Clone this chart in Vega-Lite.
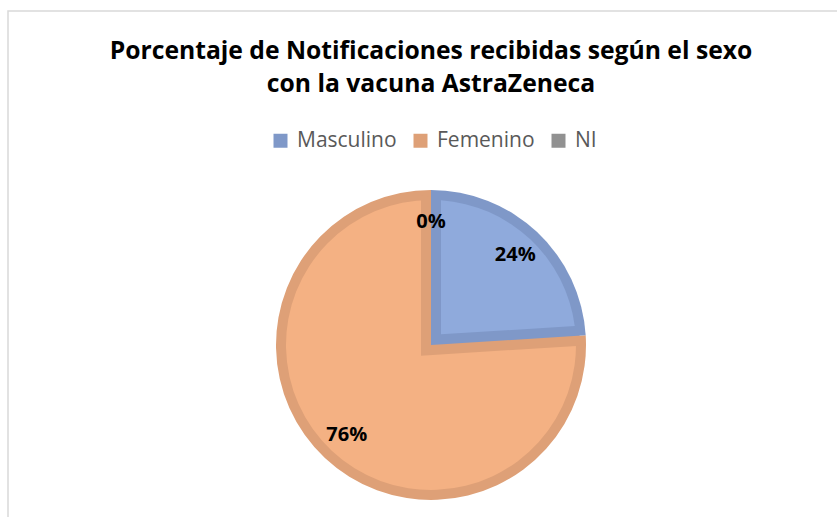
{
  "$schema": "https://vega.github.io/schema/vega-lite/v6.json",
  "autosize": {"type": "none"},
  "padding": {"left": 8, "top": 11, "right": -17, "bottom": -151},
  "width": 846,
  "height": 668,
  "background": "white",
  "view": {"stroke": "#d9d9d9", "strokeWidth": 1.5, "fill": "white"},
  "title": {
    "text": ["Porcentaje de Notificaciones recibidas según el sexo", "con la vacuna AstraZeneca"],
    "font": "Open Sans",
    "fontSize": 24.7,
    "fontWeight": "bold",
    "color": "#000000",
    "anchor": "middle",
    "frame": "group",
    "orient": "top",
    "offset": -86,
    "lineHeight": 33
  },
  "data": {
    "values": [
      {"sexo": "Masculino", "proporcion": 0.24, "orden": 1},
      {"sexo": "Femenino", "proporcion": 0.76, "orden": 2},
      {"sexo": "NI", "proporcion": 0, "orden": 3}
    ]
  },
  "transform": [
    {"stack": "proporcion", "groupby": [], "sort": [{"field": "orden"}], "as": ["inicio", "fin"]}
  ],
  "layer": [
    {
      "transform": [{"filter": "datum.sexo === 'Femenino'"}],
      "mark": {"type": "arc", "outerRadius": 155, "fill": "#DEA077"},
      "encoding": {
        "theta": {"field": "inicio", "type": "quantitative", "scale": {"domain": [0, 1]}},
        "theta2": {"field": "fin"}
      }
    },
    {
      "transform": [{"filter": "datum.sexo === 'Femenino'"}],
      "mark": {"type": "arc", "outerRadius": 145, "fill": "#F4B183"},
      "encoding": {
        "theta": {"field": "inicio", "type": "quantitative"},
        "theta2": {"field": "fin"}
      }
    },
    {
      "transform": [{"filter": "datum.sexo === 'Masculino'"}],
      "mark": {"type": "arc", "outerRadius": 160, "fill": "#DEA077", "xOffset": -10, "yOffset": 10.7},
      "encoding": {
        "theta": {"field": "inicio", "type": "quantitative"},
        "theta2": {"field": "fin"}
      }
    },
    {
      "transform": [{"filter": "datum.sexo === 'Masculino'"}],
      "mark": {"type": "arc", "outerRadius": 155},
      "encoding": {
        "theta": {"field": "inicio", "type": "quantitative"},
        "theta2": {"field": "fin"},
        "color": {
          "field": "sexo",
          "type": "nominal",
          "scale": {"domain": ["Masculino", "Femenino", "NI"], "range": ["#7F98C8", "#DEA077", "#919191"]},
          "legend": {
            "orient": "none",
            "legendX": 262,
            "legendY": 119,
            "direction": "horizontal",
            "title": null,
            "symbolType": "square",
            "symbolSize": 196,
            "symbolStrokeWidth": 0,
            "labelFont": "Open Sans",
            "labelFontSize": 21,
            "labelColor": "#595959",
            "labelOffset": 6,
            "columnPadding": 13,
            "padding": 0
          }
        }
      }
    },
    {
      "transform": [{"filter": "datum.sexo === 'Masculino'"}],
      "mark": {"type": "arc", "outerRadius": 145, "innerRadius": 14.6, "padAngle": 0.1373, "fill": "#8FAADC"},
      "encoding": {
        "theta": {"field": "inicio", "type": "quantitative"},
        "theta2": {"field": "fin"}
      }
    },
    {
      "mark": {"type": "text", "radius": 123, "font": "Open Sans", "fontSize": 20, "fontWeight": "bold", "color": "#000000", "align": "center", "baseline": "middle"},
      "encoding": {
        "theta": {"field": "proporcion", "type": "quantitative", "stack": true},
        "order": {"field": "orden", "type": "quantitative"},
        "text": {"field": "proporcion", "type": "quantitative", "format": ".0%"}
      }
    }
  ],
  "config": {"view": {"stroke": "#d9d9d9", "strokeWidth": 1.5}}
}
